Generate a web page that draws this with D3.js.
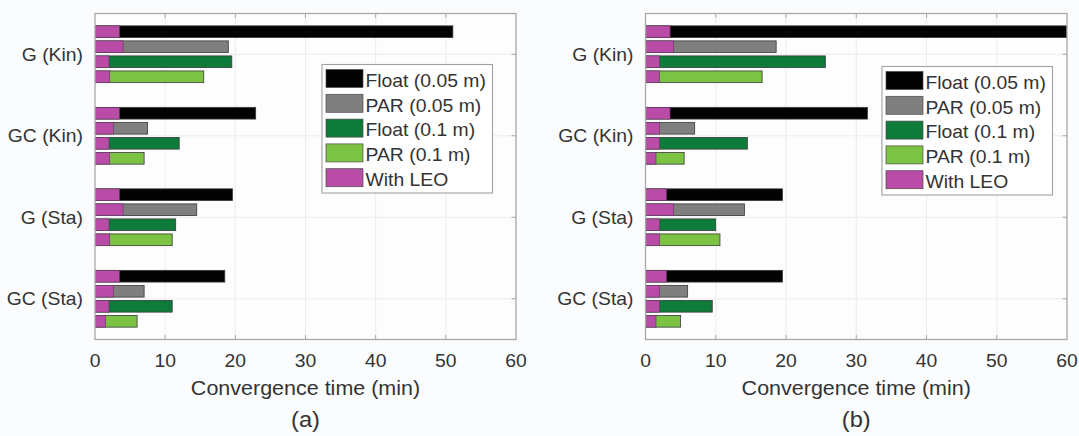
<!DOCTYPE html>
<html>
<head>
<meta charset="utf-8">
<script src="https://cdn.jsdelivr.net/npm/d3@7/dist/d3.min.js"></script>
<style>
  html, body { margin: 0; padding: 0; background: #fbfcfd; }
  svg { display: block; }
  text { font-family: "Liberation Sans", Arial, sans-serif; fill: #333; }
</style>
</head>
<body>
<svg id="chart" width="1079" height="436"></svg>
<script>
// Solution groups (top to bottom) and the four convergence criteria
const categories = ["G (Kin)", "GC (Kin)", "G (Sta)", "GC (Sta)"];
const seriesNames = ["Float (0.05 m)", "PAR (0.05 m)", "Float (0.1 m)", "PAR (0.1 m)"];
const leoName = "With LEO";
const xTicks = [0, 10, 20, 30, 40, 50, 60];
const panelLabels = ["(a)", "(b)"];
const xTitle = "Convergence time (min)";

// Panel (a): convergence time without LEO, per criterion, per group (min)
const aFloat005 = [51.0, 22.9, 19.6, 18.5];
const aPar005   = [19.0, 7.5, 14.5, 7.0];
const aFloat01  = [19.5, 12.0, 11.5, 11.0];
const aPar01    = [15.5, 7.0, 11.0, 6.0];
// Panel (a): convergence time with LEO
const aLeoFloat005 = [3.5, 3.5, 3.5, 3.5];
const aLeoPar005   = [4.0, 2.6, 4.0, 2.6];
const aLeoFloat01  = [2.0, 2.0, 2.0, 2.0];
const aLeoPar01    = [2.1, 2.1, 2.1, 1.5];

// Panel (b): convergence time without LEO
const bFloat005 = [60.0, 31.6, 19.5, 19.5];
const bPar005   = [18.6, 7.0, 14.1, 6.0];
const bFloat01  = [25.6, 14.5, 10.0, 9.5];
const bPar01    = [16.6, 5.5, 10.6, 5.0];
// Panel (b): convergence time with LEO
const bLeoFloat005 = [3.5, 3.5, 3.0, 3.0];
const bLeoPar005   = [4.0, 2.0, 4.0, 2.0];
const bLeoFloat01  = [2.0, 2.0, 2.0, 2.0];
const bLeoPar01    = [2.0, 1.5, 2.0, 1.5];

const seriesColors = ["#030303", "#7f7f7f", "#0e7b3b", "#7cc243"];
const leoColor = "#b84ca6";

const panels = [
  { label: panelLabels[0], left: 95, right: 516,
    base: [aFloat005, aPar005, aFloat01, aPar01],
    leo: [aLeoFloat005, aLeoPar005, aLeoFloat01, aLeoPar01],
    legend: { x: 322, y: 64.5 } },
  { label: panelLabels[1], left: 645.5, right: 1067,
    base: [bFloat005, bPar005, bFloat01, bPar01],
    leo: [bLeoFloat005, bLeoPar005, bLeoFloat01, bLeoPar01],
    legend: { x: 882, y: 66.5 } }
];

const plotTop = 13.5, plotBottom = 339.5;
const SX = 1.075; // slight horizontal widening of the typeface

const svg = d3.select("#chart");

function label(g, x, y, str, size, anchor) {
  return g.append("text")
    .attr("transform", `translate(${x},${y}) scale(${SX},1)`)
    .attr("font-size", size)
    .attr("text-anchor", anchor || "start")
    .text(str);
}

panels.forEach((p, pi) => {
  const g = svg.append("g");
  const x = d3.scaleLinear().domain([0, 60]).range([p.left, p.right]);
  const y = d3.scaleBand().domain(categories).range([plotTop, plotBottom]).padding(0);
  const inner = d3.scaleBand().domain(seriesNames).range([-28.4, 28.4]).paddingInner(0.22);
  const yc = c => y(c) + y.bandwidth() / 2;

  // plot area
  g.append("rect").attr("x", p.left).attr("y", plotTop)
    .attr("width", p.right - p.left).attr("height", plotBottom - plotTop)
    .attr("fill", "#fdfdfe");

  // grid
  g.selectAll(".vgrid").data(xTicks.slice(1, -1)).join("line")
    .attr("x1", d => x(d)).attr("x2", d => x(d))
    .attr("y1", plotTop).attr("y2", plotBottom)
    .attr("stroke", "#ececec").attr("stroke-width", 1);
  g.selectAll(".hgrid").data(categories).join("line")
    .attr("x1", p.left).attr("x2", p.right)
    .attr("y1", d => yc(d)).attr("y2", d => yc(d))
    .attr("stroke", "#ececec").attr("stroke-width", 1);

  // bars: full convergence time, then the LEO-aided time on top
  const clip = "clip" + pi;
  g.append("clipPath").attr("id", clip).append("rect")
    .attr("x", p.left).attr("y", plotTop).attr("width", p.right - p.left).attr("height", plotBottom - plotTop);
  const bars = g.append("g").attr("clip-path", `url(#${clip})`);
  seriesNames.forEach((s, si) => {
    categories.forEach((c, ci) => {
      const y0 = yc(c) + inner(s);
      bars.append("rect")
        .attr("x", x(0)).attr("y", y0)
        .attr("width", x(p.base[si][ci]) - x(0)).attr("height", inner.bandwidth())
        .attr("fill", seriesColors[si]).attr("stroke", "#3a3a3a").attr("stroke-width", 0.8);
      bars.append("rect")
        .attr("x", x(0)).attr("y", y0)
        .attr("width", x(p.leo[si][ci]) - x(0)).attr("height", inner.bandwidth())
        .attr("fill", leoColor).attr("stroke", "#5a3a55").attr("stroke-width", 0.6);
    });
  });

  // frame
  g.append("rect").attr("x", p.left).attr("y", plotTop)
    .attr("width", p.right - p.left).attr("height", plotBottom - plotTop)
    .attr("fill", "none").attr("stroke", "#a8a8a8").attr("stroke-width", 1.3);

  // inward ticks on all sides
  const tl = 4.5;
  xTicks.slice(1, -1).forEach(t => {
    g.append("line").attr("x1", x(t)).attr("x2", x(t)).attr("y1", plotBottom).attr("y2", plotBottom - tl)
      .attr("stroke", "#a8a8a8");
    g.append("line").attr("x1", x(t)).attr("x2", x(t)).attr("y1", plotTop).attr("y2", plotTop + tl)
      .attr("stroke", "#a8a8a8");
  });
  categories.forEach(c => {
    g.append("line").attr("x1", p.right).attr("x2", p.right - tl).attr("y1", yc(c)).attr("y2", yc(c))
      .attr("stroke", "#a8a8a8");
  });

  // tick labels
  xTicks.forEach(t => label(g, x(t), 366.7, String(t), 18, "middle"));
  categories.forEach(c => label(g, p.left - 12, yc(c) + 6.5, c, 18, "end"));

  // axis title and panel letter
  const mid = (p.left + p.right) / 2;
  label(g, mid, 394.5, xTitle, 20, "middle");
  label(g, mid, 427, p.label, 22, "middle");

  // legend
  const lg = g.append("g").attr("transform", `translate(${p.legend.x},${p.legend.y})`);
  lg.append("rect").attr("width", 170.5).attr("height", 128.5)
    .attr("fill", "#ffffff").attr("stroke", "#a0a0a0").attr("stroke-width", 1.1);
  const entries = seriesNames.map((s, i) => ({ name: s, color: seriesColors[i] }))
    .concat([{ name: leoName, color: leoColor }]);
  entries.forEach((e, i) => {
    const ey = 5 + i * 24.8;
    lg.append("rect").attr("x", 4).attr("y", ey).attr("width", 37).attr("height", 18)
      .attr("fill", e.color).attr("stroke", "#4a4a4a").attr("stroke-width", 0.7);
    label(lg, 43.5, ey + 17.3, e.name, 18, "start");
  });
});
</script>
</body>
</html>
